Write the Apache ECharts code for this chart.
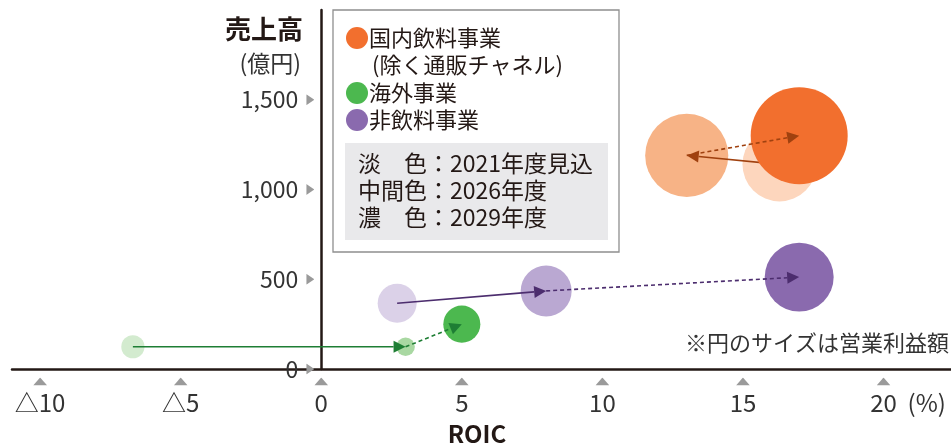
<!DOCTYPE html>
<html>
<head>
<meta charset="utf-8">
<script src="https://cdn.jsdelivr.net/npm/echarts@6/dist/echarts.min.js"></script>
<style>
html,body{margin:0;padding:0;background:#fff;}
#chart{width:951px;height:445px;}
</style>
</head>
<body>
<div id="chart"></div>
<script>
// ---- data ----
const segments = ['国内飲料事業', '海外事業', '非飲料事業'];
const segmentSub = '(除く通販チャネル)';
const years = ['2021年度見込', '2026年度', '2029年度'];
const shadeNames = ['淡\u3000色', '中間色', '濃\u3000色'];

// ROIC (%), sales (億円), operating profit (relative, bubble area) for 2021 / 2026 / 2029
const domesticRoic = [16.3, 13.0, 17.0];
const domesticSales = [1140, 1190, 1300];
const domesticProfit = [112, 141, 192];

const overseasRoic = [-6.7, 3.0, 5.0];
const overseasSales = [124, 124, 250];
const overseasProfit = [11, 7, 28];

const nonBevRoic = [2.7, 8.0, 17.0];
const nonBevSales = [366, 435, 512];
const nonBevProfit = [31, 53, 97];

const xTicks = [-10, -5, 0, 5, 10, 15, 20];
const yTicks = [0, 500, 1000, 1500];

// ---- styles ----
const FONT = '"Noto Sans CJK JP", "Noto Sans", sans-serif';
const TEXT = '#231815';
const segColors = [
  ['#FDD6BD', '#F7B386', '#F26F2E'],
  ['#D3EBCF', '#A9D8A2', '#4CB84F'],
  ['#DBD1E8', '#BAA8D2', '#8A6AAE']
];
const arrowColors = ['#A0410F', '#1E7E34', '#4C2D6E'];

const roicBySeg = [domesticRoic, overseasRoic, nonBevRoic];
const salesBySeg = [domesticSales, overseasSales, nonBevSales];
const profitBySeg = [domesticProfit, overseasProfit, nonBevProfit];

function svgUrl(w, h, pts) {
  return 'data:image/svg+xml;charset=utf-8,' + encodeURIComponent(
    "<svg xmlns='http://www.w3.org/2000/svg' width='" + w + "' height='" + h + "'><polygon points='" + pts + "' fill='#9a9a9a'/></svg>");
}
const triUp = svgUrl(14, 8, '0,8 7,0 14,8');
const triRight = svgUrl(8, 11, '0,0 8,5.5 0,11');

function layer(yi, z) {
  return {
    type: 'scatter',
    name: years[yi],
    z: z,
    symbol: 'circle',
    symbolSize: function (v) { return Math.sqrt(v[2]) * 7; },
    data: segments.map(function (s, si) {
      return {
        name: s,
        value: [roicBySeg[si][yi], salesBySeg[si][yi], profitBySeg[si][yi]],
        itemStyle: { color: segColors[si][yi], opacity: 1 }
      };
    }),
    emphasis: { disabled: true },
    silent: true
  };
}

function arrowSeries(from, to, dashed, z) {
  return {
    type: 'custom',
    z: z,
    silent: true,
    encode: { x: [0, 2], y: [1, 3] },
    data: segments.map(function (s, si) {
      return [roicBySeg[si][from], salesBySeg[si][from], roicBySeg[si][to], salesBySeg[si][to]];
    }),
    renderItem: function (params, api) {
      const p0 = api.coord([api.value(0), api.value(1)]);
      const p1 = api.coord([api.value(2), api.value(3)]);
      const color = arrowColors[params.dataIndex];
      const dx = p1[0] - p0[0], dy = p1[1] - p0[1];
      const len = Math.sqrt(dx * dx + dy * dy);
      const ux = dx / len, uy = dy / len;
      const L = 12, W = 6;
      const bx = p1[0] - ux * L, by = p1[1] - uy * L;
      return {
        type: 'group',
        children: [
          { type: 'line', shape: { x1: p0[0], y1: p0[1], x2: bx, y2: by },
            style: { stroke: color, lineWidth: 1.6, lineDash: dashed ? [4, 3] : null } },
          { type: 'polygon', shape: { points: [[p1[0], p1[1]], [bx - uy * W, by + ux * W], [bx + uy * W, by - ux * W]] },
            style: { fill: color } }
        ]
      };
    }
  };
}

// legend (drawn as graphic text)
const legendChildren = [
  { type: 'rect', shape: { x: 333, y: 10, width: 286, height: 242 }, style: { fill: '#fff', stroke: '#8f8f8f', lineWidth: 1.3 } },
  { type: 'rect', shape: { x: 345, y: 143, width: 263, height: 97 }, style: { fill: '#E9E9EB' } }
];
const legendRows = [38, 93, 120];
segments.forEach(function (s, si) {
  legendChildren.push({ type: 'circle', shape: { cx: 357, cy: legendRows[si], r: 11 }, style: { fill: segColors[si][2] } });
  legendChildren.push({ type: 'text', x: 369, y: legendRows[si], style: { text: s, font: '22px ' + FONT, fill: TEXT, textVerticalAlign: 'middle' } });
});
legendChildren.push({ type: 'text', x: 372, y: 65, style: { text: segmentSub, font: '22px ' + FONT, fill: TEXT, textVerticalAlign: 'middle' } });
const boxRows = [163, 190, 217];
years.forEach(function (y, i) {
  legendChildren.push({ type: 'text', x: 358, y: boxRows[i], style: { text: shadeNames[i] + '：' + y, font: '23px ' + FONT, fill: TEXT, textVerticalAlign: 'middle' } });
});

const GRID_LEFT = 12;
const X_MIN = -11, X_MAX = 22.4;
const chart = echarts.init(document.getElementById('chart'), null, { renderer: 'canvas' });
chart.setOption({
  animation: false,
  backgroundColor: '#fff',
  grid: { left: GRID_LEFT, right: 0, top: 10, bottom: 76, containLabel: false, outerBoundsMode: 'none' },
  xAxis: {
    type: 'value',
    min: X_MIN, max: X_MAX,
    splitLine: { show: false },
    axisTick: { show: false },
    axisLine: { show: true, onZero: false, lineStyle: { color: TEXT, width: 2.5 } },
    axisLabel: {
      customValues: xTicks,
      margin: 7,
      fontFamily: FONT,
      formatter: function (v) {
        const txt = v < 0 ? '△' + (-v) : String(v);
        if (v === 20) return '{t|}\n{pad|}{v|' + txt + '}{p|(%)}';
        return '{t|}\n{v|' + txt + '}';
      },
      rich: {
        t: { width: 14, height: 8, backgroundColor: { image: triUp }, lineHeight: 11 },
        v: { fontSize: 24, fontFamily: FONT, color: '#333', lineHeight: 32 },
        pad: { width: 49, lineHeight: 32 },
        p: { width: 49, align: 'right', fontSize: 24, fontFamily: FONT, color: '#333', lineHeight: 32 }
      }
    }
  },
  yAxis: {
    type: 'value',
    min: 0, max: 2000,
    // place the y axis at ROIC = 0 (grid spans from X_MIN)
    offset: -(951 - GRID_LEFT) * (0 - X_MIN) / (X_MAX - X_MIN),
    splitLine: { show: false },
    axisTick: { show: false },
    axisLine: { show: true, onZero: false, lineStyle: { color: TEXT, width: 2.5 } },
    axisLabel: {
      customValues: yTicks,
      margin: 7,
      formatter: function (v) {
        return '{v|' + v.toLocaleString('en-US') + '}{g|}{t|}';
      },
      rich: {
        v: { fontSize: 23, fontFamily: FONT, color: '#333' },
        g: { width: 8 },
        t: { width: 8, height: 11, backgroundColor: { image: triRight } }
      }
    }
  },
  graphic: [
    { type: 'text', x: 303, y: 29, style: { text: '売上高', font: 'bold 26px ' + FONT, fill: TEXT, textAlign: 'right', textVerticalAlign: 'middle' } },
    { type: 'text', x: 301, y: 63, style: { text: '(億円)', font: '23px ' + FONT, fill: '#333', textAlign: 'right', textVerticalAlign: 'middle' } },
    { type: 'text', x: 477, y: 434, style: { text: 'ROIC', font: 'bold 24px ' + FONT, fill: TEXT, textAlign: 'center', textVerticalAlign: 'middle' } },
    { type: 'text', x: 949, y: 343, style: { text: '※円のサイズは営業利益額', font: '22px ' + FONT, fill: '#333', textAlign: 'right', textVerticalAlign: 'middle' } },
    { type: 'group', children: legendChildren }
  ],
  series: [
    layer(0, 1),
    layer(1, 2),
    arrowSeries(0, 1, false, 3),
    layer(2, 4),
    arrowSeries(1, 2, true, 5)
  ]
});
</script>
</body>
</html>
